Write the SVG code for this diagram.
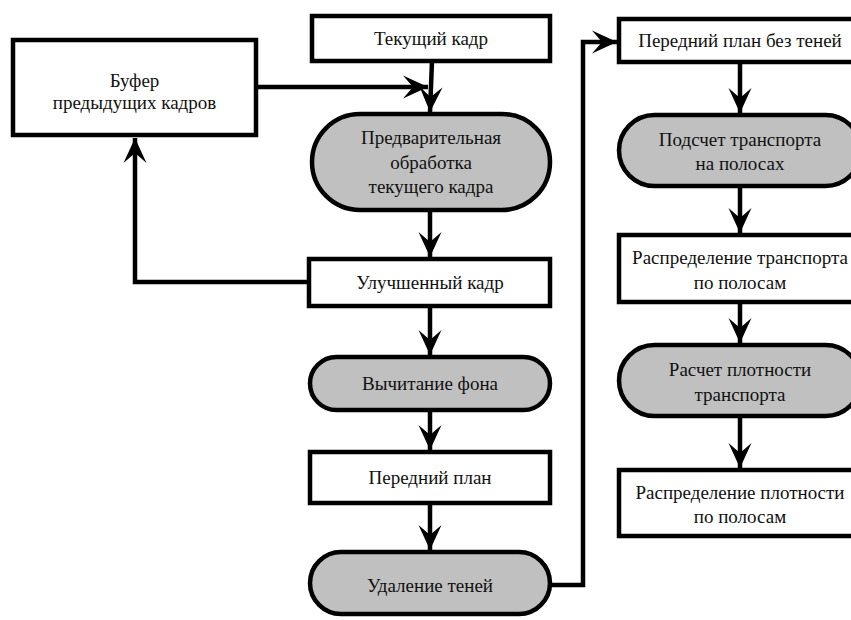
<svg xmlns="http://www.w3.org/2000/svg" width="851" height="620" viewBox="0 0 851 620">
<defs>
<marker id="ah" markerUnits="userSpaceOnUse" viewBox="-26 -12 27 24" refX="0" refY="0" markerWidth="27" markerHeight="24" orient="auto">
<path d="M0,0 L-25,-11.5 L-15,0 L-25,11.5 Z" fill="#000"/>
</marker>
</defs>
<rect width="851" height="620" fill="#fff"/>
<g id="connectors" fill="none" stroke="#000" stroke-width="4.5" marker-end="url(#ah)">
<path d="M432,61 L430,112"/>
<path d="M256,87 L428,87"/>
<path d="M430,210 L430,257"/>
<path d="M309,282 L135,282 L135,138"/>
<path d="M430,306 L430,355"/>
<path d="M430,410 L430,450"/>
<path d="M430,503 L430,550"/>
<path d="M550,585 L583,585 L583,42 L617,42"/>
<path d="M740,62 L740,113"/>
<path d="M740,186 L740,233"/>
<path d="M740,302 L740,343"/>
<path d="M740,416 L740,468"/>
</g>
<g id="buffer">
<rect x="13" y="40" width="243" height="95" fill="#fff" stroke="#000" stroke-width="4.5"/>
<text x="134.5" y="87" style="font-family:'Liberation Serif',serif;font-size:19px" fill="#111" text-anchor="middle">Буфер</text>
<text x="134.5" y="109" style="font-family:'Liberation Serif',serif;font-size:19px" fill="#111" text-anchor="middle">предыдущих кадров</text>
</g>
<g id="current">
<rect x="312" y="16" width="238" height="45" fill="#fff" stroke="#000" stroke-width="4.5"/>
<text x="431" y="45" style="font-family:'Liberation Serif',serif;font-size:19px" fill="#111" text-anchor="middle">Текущий кадр</text>
</g>
<g id="preproc">
<rect x="312" y="114" width="238" height="96" rx="48" fill="#c0c0c0" stroke="#000" stroke-width="4.5"/>
<text x="431" y="144" style="font-family:'Liberation Serif',serif;font-size:19px" fill="#111" text-anchor="middle">Предварительная</text>
<text x="431" y="169" style="font-family:'Liberation Serif',serif;font-size:19px" fill="#111" text-anchor="middle">обработка</text>
<text x="431" y="193" style="font-family:'Liberation Serif',serif;font-size:19px" fill="#111" text-anchor="middle">текущего кадра</text>
</g>
<g id="enhanced">
<rect x="309" y="259" width="241" height="47" fill="#fff" stroke="#000" stroke-width="4.5"/>
<text x="430" y="289" style="font-family:'Liberation Serif',serif;font-size:19px" fill="#111" text-anchor="middle">Улучшенный кадр</text>
</g>
<g id="bgsub">
<rect x="310" y="357" width="240" height="53" rx="26.5" fill="#c0c0c0" stroke="#000" stroke-width="4.5"/>
<text x="430" y="390" style="font-family:'Liberation Serif',serif;font-size:19px" fill="#111" text-anchor="middle">Вычитание фона</text>
</g>
<g id="foreground">
<rect x="310" y="452" width="240" height="51" fill="#fff" stroke="#000" stroke-width="4.5"/>
<text x="430" y="484" style="font-family:'Liberation Serif',serif;font-size:19px" fill="#111" text-anchor="middle">Передний план</text>
</g>
<g id="shadowrm">
<rect x="310" y="552" width="240" height="62" rx="31" fill="#c0c0c0" stroke="#000" stroke-width="4.5"/>
<text x="430" y="592" style="font-family:'Liberation Serif',serif;font-size:19px" fill="#111" text-anchor="middle">Удаление теней</text>
</g>
<g id="fg-noshadow">
<rect x="619" y="19" width="242" height="43" fill="#fff" stroke="#000" stroke-width="4.5"/>
<text x="740" y="47" style="font-family:'Liberation Serif',serif;font-size:19px" fill="#111" text-anchor="middle">Передний план без теней</text>
</g>
<g id="count">
<rect x="619" y="115" width="242" height="71" rx="35.5" fill="#c0c0c0" stroke="#000" stroke-width="4.5"/>
<text x="740" y="146" style="font-family:'Liberation Serif',serif;font-size:19px" fill="#111" text-anchor="middle">Подсчет транспорта</text>
<text x="740" y="170" style="font-family:'Liberation Serif',serif;font-size:19px" fill="#111" text-anchor="middle">на полосах</text>
</g>
<g id="distr-transport">
<rect x="619" y="235" width="242" height="67" fill="#fff" stroke="#000" stroke-width="4.5"/>
<text x="740" y="264" style="font-family:'Liberation Serif',serif;font-size:19px" fill="#111" text-anchor="middle">Распределение транспорта</text>
<text x="740" y="289" style="font-family:'Liberation Serif',serif;font-size:19px" fill="#111" text-anchor="middle">по полосам</text>
</g>
<g id="density">
<rect x="619" y="345" width="242" height="71" rx="35.5" fill="#c0c0c0" stroke="#000" stroke-width="4.5"/>
<text x="740" y="376" style="font-family:'Liberation Serif',serif;font-size:19px" fill="#111" text-anchor="middle">Расчет плотности</text>
<text x="740" y="401" style="font-family:'Liberation Serif',serif;font-size:19px" fill="#111" text-anchor="middle">транспорта</text>
</g>
<g id="distr-density">
<rect x="619" y="470" width="242" height="66" fill="#fff" stroke="#000" stroke-width="4.5"/>
<text x="740" y="499" style="font-family:'Liberation Serif',serif;font-size:19px" fill="#111" text-anchor="middle">Распределение плотности</text>
<text x="740" y="523" style="font-family:'Liberation Serif',serif;font-size:19px" fill="#111" text-anchor="middle">по полосам</text>
</g>
</svg>
